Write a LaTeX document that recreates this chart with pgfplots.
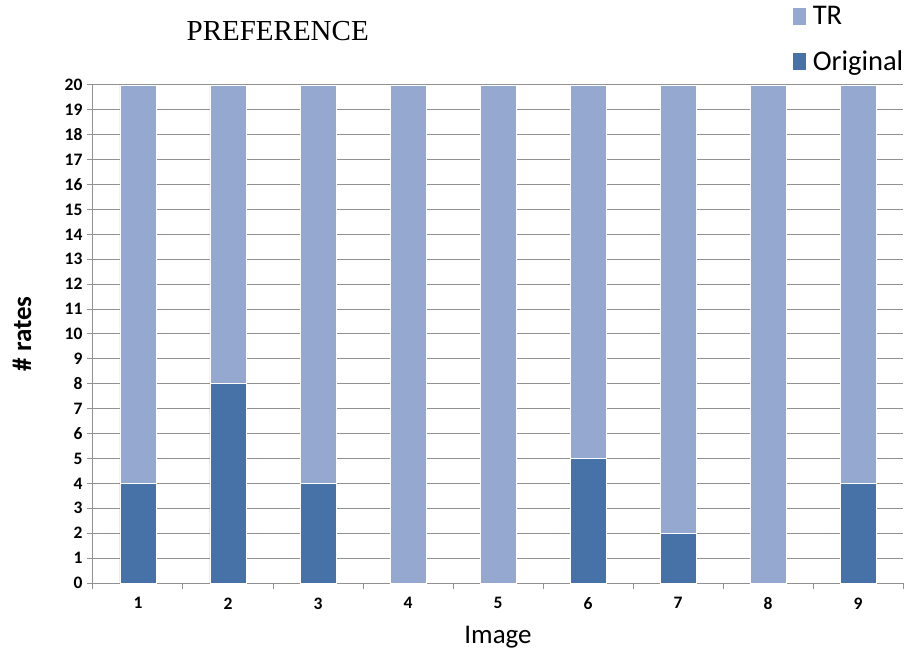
\documentclass[border=0pt]{standalone}
\usepackage{pgfplots}
\pgfplotsset{compat=1.18}
\usepackage{fontspec}
\setmainfont{Carlito}
\newfontfamily\titlefont{Liberation Serif}
\definecolor{dark}{RGB}{70,114,168}
\definecolor{light}{RGB}{149,169,208}
\definecolor{gridc}{RGB}{145,145,145}
\begin{document}
\begin{tikzpicture}
\begin{axis}[
  scale only axis,
  width=810pt, height=498pt,
  ybar stacked,
  bar width=36pt,
  xmin=0.5, xmax=9.5,
  ymin=0, ymax=20,
  clip=false,
  axis x line*=bottom,
  axis y line*=left,
  axis line style={gridc, line width=1pt, -},
  xtick={1,...,9},
  minor xtick={0.5,1.5,...,9.5},
  major x tick style={draw=none},
  minor x tick style={gridc, line width=1pt},
  minor tick length=6pt,
  ytick={0,1,...,20},
  y tick style={gridc, line width=1pt},
  major tick length=6pt,
  tick align=outside,
  ymajorgrids,
  grid style={gridc, line width=1pt},
  /pgf/number format/assume math mode=true,
  ticklabel style={font=\fontsize{17.5}{18}\selectfont\bfseries},
  xticklabel style={yshift=-5pt},
  yticklabel style={xshift=-1pt},
  xlabel={Image},
  ylabel={\# rates},
  every axis x label/.style={at={(rel axis cs:0.5,0)}, yshift=-54pt, anchor=center, font=\fontsize{27}{30}\selectfont},
  every axis y label/.style={at={(rel axis cs:0,0.5)}, xshift=-71pt, rotate=90, anchor=center, font=\fontsize{27}{30}\selectfont\bfseries},
  legend style={draw=none, fill=none, at={(rel axis cs:0.864,1.162)}, anchor=north west, font=\fontsize{28.5}{30}\selectfont, row sep=20pt, inner sep=0pt, column sep=5pt},
  legend cell align=left,
  reverse legend,
]
\addplot[fill=dark, draw=white, line width=0.8pt, legend image code/.code={\fill[dark] (0pt,-8pt) rectangle (12pt,8pt);}] coordinates {(1,4) (2,8) (3,4) (4,0) (5,0) (6,5) (7,2) (8,0) (9,4)};
\addlegendentry{Original}
\addplot[fill=light, draw=white, line width=0.8pt, legend image code/.code={\fill[light] (0pt,-8pt) rectangle (12pt,8pt);}] coordinates {(1,16) (2,12) (3,16) (4,20) (5,20) (6,15) (7,18) (8,20) (9,16)};
\addlegendentry{TR}
\node[font=\fontsize{29}{32}\selectfont\titlefont, anchor=center] at (rel axis cs:0.228,1.108) {PREFERENCE};
\path (rel axis cs:0,0) ++(-93pt,-72pt) rectangle ++(909pt,655pt);
\end{axis}
\end{tikzpicture}
\end{document}
